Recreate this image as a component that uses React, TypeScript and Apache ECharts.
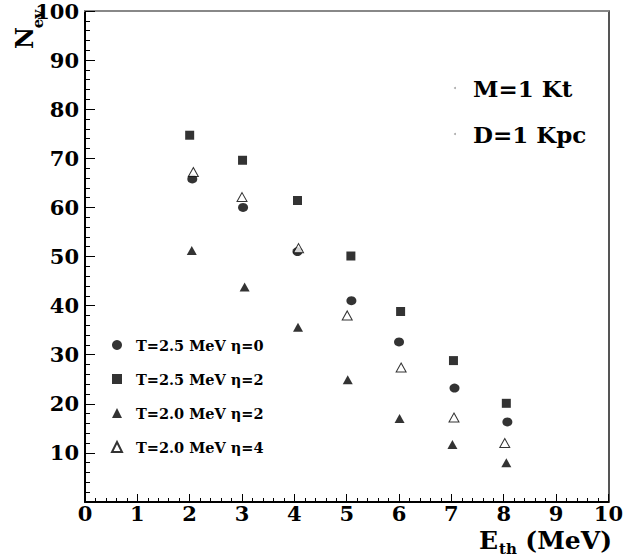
import React, { useEffect, useRef } from "react";
import * as echarts from "echarts";

const xTicks = [0, 10];
const yRange = [0, 100];

const seriesNames = [
  "T=2.5 MeV η=0",
  "T=2.5 MeV η=2",
  "T=2.0 MeV η=2",
  "T=2.0 MeV η=4",
];

const xCircle = [2.05, 3.02, 4.06, 5.09, 6.0, 7.06, 8.07];
const yCircle = [65.8, 60.0, 51.0, 41.0, 32.6, 23.2, 16.3];

const xSquare = [2.0, 3.01, 4.06, 5.08, 6.03, 7.04, 8.05];
const ySquare = [74.7, 69.6, 61.4, 50.1, 38.8, 28.8, 20.1];

const xTriFilled = [2.04, 3.05, 4.07, 5.02, 6.01, 7.02, 8.05];
const yTriFilled = [51.2, 43.8, 35.6, 24.9, 17.0, 11.7, 8.0];

const xTriOpen = [2.07, 3.0, 4.08, 5.01, 6.04, 7.05, 8.02];
const yTriOpen = [67.2, 62.1, 51.7, 38.0, 27.4, 17.2, 12.0];

const annotations = ["M=1 Kt", "D=1 Kpc"];

const FONT = "DejaVu Serif";

function pairs(xs: number[], ys: number[]) {
  return xs.map((x, i) => [x, ys[i]]);
}

export default function App() {
  const ref = useRef<HTMLDivElement>(null);
  useEffect(() => {
    if (!ref.current) return;
    const chart = echarts.init(ref.current, null, { renderer: "svg" });
    const labelStyle = {
      fontFamily: FONT,
      fontWeight: "bold" as const,
      fontSize: 21,
      color: "#000",
    };
    chart.setOption({
      animation: false,
      backgroundColor: "#fff",
      grid: { left: 85, right: 14, top: 11, bottom: 57 },
      xAxis: [
        {
          type: "value",
          min: xTicks[0],
          max: xTicks[1],
          interval: 1,
          axisLine: { show: true, lineStyle: { color: "#000", width: 2 } },
          axisTick: { show: true, inside: true, length: 8, lineStyle: { color: "#000", width: 1 } },
          minorTick: { show: true, splitNumber: 5, length: 4, lineStyle: { color: "#000", width: 1 } },
          splitLine: { show: false },
          axisLabel: { ...labelStyle, margin: 1 },
        },
        {
          type: "value",
          position: "top",
          min: xTicks[0],
          max: xTicks[1],
          axisLine: { show: true, onZero: false, lineStyle: { color: "#888", width: 2 } },
          axisTick: { show: false },
          axisLabel: { show: false },
          splitLine: { show: false },
        },
      ],
      yAxis: [
        {
          type: "value",
          min: yRange[0],
          max: yRange[1],
          interval: 10,
          axisLine: { show: true, lineStyle: { color: "#000", width: 2 } },
          axisTick: { show: true, inside: true, length: 10, lineStyle: { color: "#000", width: 1 } },
          minorTick: { show: true, splitNumber: 5, length: 5, lineStyle: { color: "#000", width: 1 } },
          splitLine: { show: false },
          axisLabel: {
            ...labelStyle,
            margin: 6,
            formatter: (v: number) => (v === 0 ? "" : String(v)),
          },
        },
        {
          type: "value",
          position: "right",
          min: yRange[0],
          max: yRange[1],
          axisLine: { show: true, onZero: false, lineStyle: { color: "#555", width: 2 } },
          axisTick: { show: false },
          axisLabel: { show: false },
          splitLine: { show: false },
        },
      ],
      legend: {
        orient: "vertical",
        left: 106,
        top: 332,
        itemWidth: 10,
        itemHeight: 10,
        itemGap: 18,
        data: seriesNames,
        textStyle: {
          fontFamily: FONT,
          fontWeight: "bold",
          fontSize: 14.5,
          lineHeight: 16,
          color: "#000",
          padding: [0, 0, 0, 9],
        },
      },
      series: [
        {
          name: seriesNames[0],
          type: "scatter",
          symbol: "circle",
          symbolSize: [10, 9],
          itemStyle: { color: "#000" },
          data: pairs(xCircle, yCircle),
        },
        {
          name: seriesNames[1],
          type: "scatter",
          symbol: "rect",
          symbolSize: 9,
          itemStyle: { color: "#000" },
          data: pairs(xSquare, ySquare),
        },
        {
          name: seriesNames[2],
          type: "scatter",
          symbol: "triangle",
          symbolSize: [10, 9],
          itemStyle: { color: "#000" },
          data: pairs(xTriFilled, yTriFilled),
        },
        {
          name: seriesNames[3],
          type: "scatter",
          symbol: "triangle",
          symbolSize: [10, 9],
          itemStyle: { color: "#fff", borderColor: "#000", borderWidth: 1 },
          data: pairs(xTriOpen, yTriOpen),
        },
      ],
      graphic: [
        {
          type: "text",
          x: 24,
          y: 38,
          rotation: Math.PI / 2,
          style: {
            text: "N",
            fontFamily: FONT,
            fontWeight: "bold",
            fontSize: 24,
            fill: "#000",
            align: "center",
            verticalAlign: "middle",
          },
        },
        {
          type: "text",
          x: 38,
          y: 19,
          rotation: Math.PI / 2,
          style: {
            text: "ev",
            fontFamily: FONT,
            fontWeight: "bold",
            fontSize: 15,
            fill: "#000",
            align: "center",
            verticalAlign: "middle",
          },
        },
        {
          type: "text",
          x: 479,
          y: 540,
          style: {
            text: "E",
            fontFamily: FONT,
            fontWeight: "bold",
            fontSize: 25,
            fill: "#000",
            align: "left",
            verticalAlign: "middle",
          },
        },
        {
          type: "text",
          x: 499,
          y: 549,
          style: {
            text: "th",
            fontFamily: FONT,
            fontWeight: "bold",
            fontSize: 15,
            fill: "#000",
            align: "left",
            verticalAlign: "middle",
          },
        },
        {
          type: "text",
          x: 612,
          y: 540,
          style: {
            text: "(MeV)",
            fontFamily: FONT,
            fontWeight: "bold",
            fontSize: 25,
            fill: "#000",
            align: "right",
            verticalAlign: "middle",
          },
        },
        {
          type: "text",
          x: 473,
          y: 88,
          style: {
            text: annotations[0],
            fontFamily: FONT,
            fontWeight: "bold",
            fontSize: 23,
            fill: "#000",
            align: "left",
            verticalAlign: "middle",
          },
        },
        {
          type: "text",
          x: 473,
          y: 134,
          style: {
            text: annotations[1],
            fontFamily: FONT,
            fontWeight: "bold",
            fontSize: 23,
            fill: "#000",
            align: "left",
            verticalAlign: "middle",
          },
        },
        { type: "circle", shape: { cx: 455, cy: 88, r: 1 }, style: { fill: "#aaa" } },
        { type: "circle", shape: { cx: 455, cy: 134, r: 1 }, style: { fill: "#aaa" } },
      ],
    });
    return () => chart.dispose();
  }, []);
  return <div ref={ref} style={{ width: 626, height: 559, position: "absolute", left: 0, top: 0 }} />;
}
